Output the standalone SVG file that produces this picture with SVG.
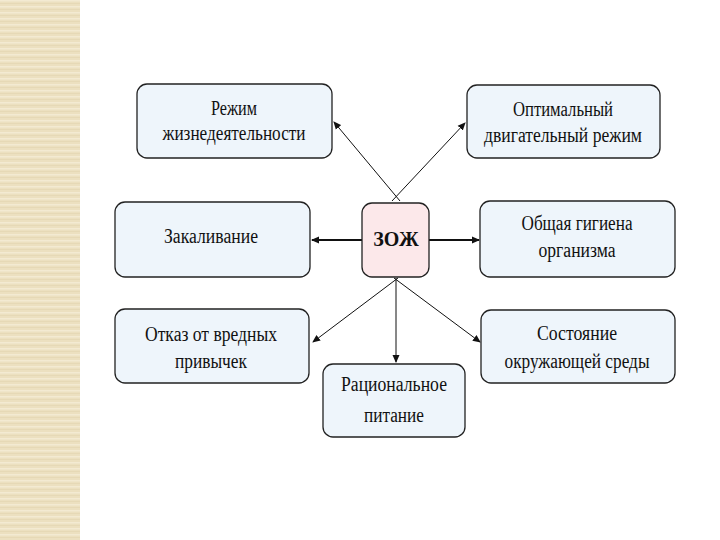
<svg xmlns="http://www.w3.org/2000/svg" width="720" height="540" viewBox="0 0 720 540">
<defs>
<pattern id="stripes" x="0" y="0" width="80" height="6" patternUnits="userSpaceOnUse">
<rect width="80" height="6" fill="#ECE0C0"/>
<rect y="0" width="80" height="1.5" fill="#F3EAD2"/>
<rect y="3" width="80" height="1" fill="#E6D9B6"/>
</pattern>
<marker id="arr" markerWidth="8" markerHeight="8" refX="7" refY="4" orient="auto" markerUnits="userSpaceOnUse">
<path d="M0,0.5 L8,4 L0,7.5 Z" fill="#111"/>
</marker>
<style>
.box{fill:#EEF5FB;stroke:#222;stroke-width:1.3}
.core{fill:#FCE8EA;stroke:#222;stroke-width:1.3}
.t{font-family:"Liberation Serif","Times New Roman",serif;font-size:20px;fill:#111;text-anchor:middle}
.b{font-weight:bold;font-size:20px}
.c{stroke:#111;stroke-width:1;fill:none;marker-end:url(#arr)}
.h{stroke-width:2}
</style>
</defs>
<rect width="720" height="540" fill="#FFFFFF"/>
<rect x="0" y="0" width="80" height="540" fill="url(#stripes)"/>
<g id="connectors">
<line class="c" x1="400" y1="201" x2="334" y2="122"/>
<line class="c" x1="392" y1="201" x2="465" y2="123"/>
<line class="c h" x1="362" y1="240" x2="312" y2="240"/>
<line class="c h" x1="429" y1="240" x2="479" y2="240"/>
<line class="c" x1="398" y1="278" x2="313" y2="342"/>
<line class="c" x1="396" y1="278" x2="396" y2="362"/>
<line class="c" x1="394" y1="278" x2="480" y2="342"/>
</g>
<g id="n_rezhim">
<rect class="box" x="137" y="84" width="195" height="74" rx="10"/>
<text class="t" x="234" y="115" textLength="46" lengthAdjust="spacingAndGlyphs">Режим</text>
<text class="t" x="234" y="140" textLength="143" lengthAdjust="spacingAndGlyphs">жизнедеятельности</text>
</g>
<g id="n_optim">
<rect class="box" x="467" y="85" width="193" height="73" rx="10"/>
<text class="t" x="563" y="116" textLength="100" lengthAdjust="spacingAndGlyphs">Оптимальный</text>
<text class="t" x="563" y="142" textLength="158" lengthAdjust="spacingAndGlyphs">двигательный режим</text>
</g>
<g id="n_zozh">
<rect class="core" x="362" y="203" width="67" height="74" rx="10"/>
<text class="t b" x="396" y="246">ЗОЖ</text>
</g>
<g id="n_zakal">
<rect class="box" x="115" y="202" width="195" height="75" rx="10"/>
<text class="t" x="211" y="243" textLength="94" lengthAdjust="spacingAndGlyphs">Закаливание</text>
</g>
<g id="n_gigiena">
<rect class="box" x="480" y="201" width="195" height="76" rx="10"/>
<text class="t" x="577" y="230" textLength="111" lengthAdjust="spacingAndGlyphs">Общая гигиена</text>
<text class="t" x="577" y="257" textLength="77" lengthAdjust="spacingAndGlyphs">организма</text>
</g>
<g id="n_otkaz">
<rect class="box" x="115" y="309" width="194" height="74" rx="10"/>
<text class="t" x="211" y="341" textLength="132" lengthAdjust="spacingAndGlyphs">Отказ от вредных</text>
<text class="t" x="211" y="368" textLength="72" lengthAdjust="spacingAndGlyphs">привычек</text>
</g>
<g id="n_racion">
<rect class="box" x="323" y="364" width="142" height="73" rx="10"/>
<text class="t" x="394" y="391" textLength="106" lengthAdjust="spacingAndGlyphs">Рациональное</text>
<text class="t" x="394" y="422" textLength="60" lengthAdjust="spacingAndGlyphs">питание</text>
</g>
<g id="n_sostoyanie">
<rect class="box" x="481" y="310" width="194" height="73" rx="10"/>
<text class="t" x="577" y="340" textLength="80" lengthAdjust="spacingAndGlyphs">Состояние</text>
<text class="t" x="577" y="368" textLength="145" lengthAdjust="spacingAndGlyphs">окружающей среды</text>
</g>
</svg>
